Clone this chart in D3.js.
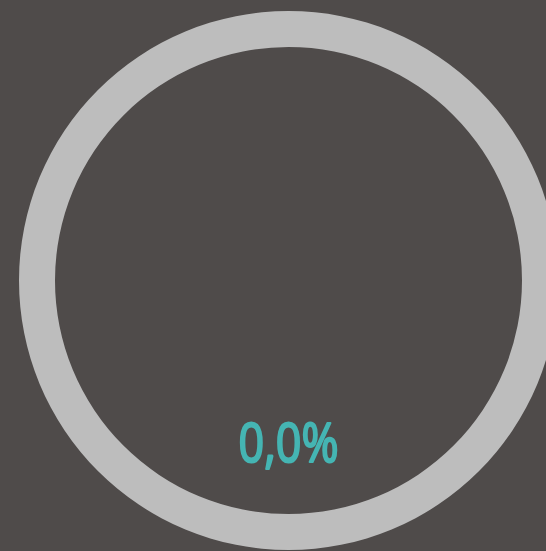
<!DOCTYPE html>
<html>
<head>
<meta charset="utf-8">
<script src="https://cdn.jsdelivr.net/npm/d3@7"></script>
<style>
  html, body { margin: 0; padding: 0; background: #4f4b4a; }
  svg { display: block; }
</style>
</head>
<body>
<svg width="546" height="551"></svg>
<script>
// progress values (fraction of the full ring)
var progress = [0.0];
var labels = ["progress"];

var svg = d3.select("svg"),
  width = +svg.attr("width"),
  height = +svg.attr("height"),
  outer = 269.5,
  thickness = 36,
  g = svg.append("g").attr("transform", "translate(288.5,280.5)");

var angle = d3.scaleLinear().domain([0, 1]).range([0, 2 * Math.PI]);

var arc = d3.arc()
  .innerRadius(outer - thickness)
  .outerRadius(outer)
  .startAngle(0);

var locale = d3.formatLocale({ decimal: ",", thousands: ".", grouping: [3], currency: ["", "€"] });
var fmt = locale.format(".1%");

// background track
g.append("path")
  .datum({ endAngle: angle(1) })
  .attr("d", arc)
  .style("fill", "#bdbdbd");

// value arc
g.selectAll("path.value")
  .data(progress)
  .enter().append("path")
  .attr("class", "value")
  .attr("d", function (d) { return arc({ endAngle: angle(d) }); })
  .style("fill", "#45b5b3");

g.selectAll("text.label")
  .data(progress)
  .enter().append("text")
  .attr("class", "label")
  .attr("x", 0)
  .attr("y", 181.5)
  .attr("text-anchor", "middle")
  .attr("textLength", 100)
  .attr("lengthAdjust", "spacingAndGlyphs")
  .style("font-family", "'Open Sans', sans-serif")
  .style("font-weight", 400)
  .style("font-size", "55px")
  .style("fill", "#45b5b3")
  .style("stroke", "#45b5b3")
  .style("stroke-width", 2.2)
  .style("stroke-linejoin", "round")
  .text(function (d) { return fmt(d); });
</script>
</body>
</html>
